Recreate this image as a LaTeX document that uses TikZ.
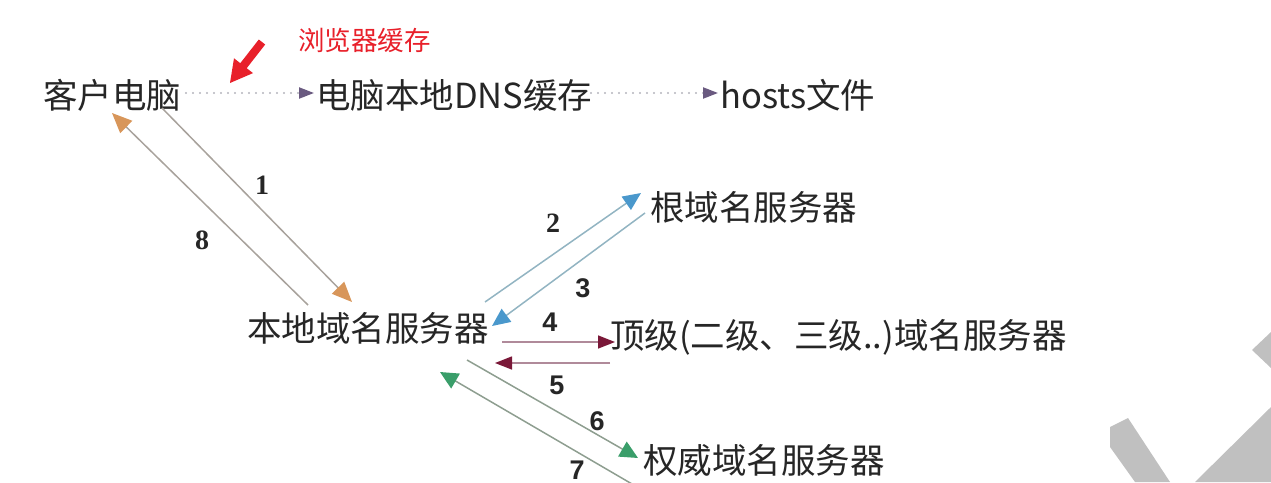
\documentclass[tikz,border=0pt]{standalone}
\usepackage{fontspec}
\setmainfont{Noto Sans CJK SC}
\newfontfamily\numserif{Liberation Serif}
\newfontfamily\numsans{Liberation Sans}
\usetikzlibrary{arrows.meta}
\definecolor{wm}{HTML}{C0C0C0}
\definecolor{redc}{HTML}{E8202A}
\definecolor{lnA}{HTML}{A8A29C}
\definecolor{lnB}{HTML}{92B4C2}
\definecolor{lnC}{HTML}{B08A9A}
\definecolor{lnD}{HTML}{8E9E90}
\definecolor{hdA}{HTML}{D8965A}
\definecolor{hdB}{HTML}{4A98CC}
\definecolor{hdC}{HTML}{7A1838}
\definecolor{hdD}{HTML}{3A9E6A}
\definecolor{hdE}{HTML}{6A5A80}
\definecolor{dotc}{HTML}{B4B4BC}
\begin{document}
\begin{tikzpicture}[x=1pt,y=-1pt,
  lbl/.style={anchor=west,inner sep=0pt,font=\fontsize{34.5}{36}\selectfont,text=black!85},
  numa/.style={inner sep=0pt,font=\fontsize{28}{28}\selectfont\numserif\bfseries,text=black!85},
  numb/.style={inner sep=0pt,font=\fontsize{27}{28}\selectfont\numsans\bfseries,text=black!85},
  conn/.style={line width=1.5pt},
  dotln/.style={dotc,line width=2.2pt,dash pattern=on 0pt off 7pt,line cap=round}]
\useasboundingbox (0,0) rectangle (1271,482);
\clip (0,0) rectangle (1271,482);
% watermark shapes
\fill[wm] (1110,427) -- (1128,418) -- (1170,482) -- (1135,482) -- (1110,447) -- cycle;
\fill[wm] (1195,482) -- (1271,407) -- (1271,482) -- cycle;
\fill[wm] (1252,350) -- (1271,332) -- (1271,368) -- cycle;
% texts
\node[lbl] (pc) at (43,95) {客户电脑};
\node[lbl] (cache) at (316,95) {电脑本地DNS缓存};
\node[lbl] (hosts) at (720,95) {hosts文件};
\node[anchor=west,inner sep=0pt,font=\fontsize{26.5}{28}\selectfont,text=redc] (browser) at (298,40) {浏览器缓存};
\node[lbl] (root) at (650,207) {根域名服务器};
\node[lbl] (local) at (247,328) {本地域名服务器};
\node[lbl] (tld) at (610,337) {顶级(二级、三级..)域名服务器};
\node[lbl] (auth) at (643,460) {权威域名服务器};
% step numbers
\node[numa] (n1) at (262,185) {1};
\node[numa] (n8) at (202,240) {8};
\node[numa] (n2) at (553,223) {2};
\node[numb] (n3) at (583,288) {3};
\node[numb] (n4) at (550,322) {4};
\node[numb] (n5) at (557,385) {5};
\node[numb] (n6) at (597,421) {6};
\node[numb] (n7) at (577,470) {7};
% red arrow
\fill[redc] (230,83) -- (234,58.3) -- (240.3,63.2) -- (258.8,39.5) -- (265.2,44.5) -- (246.7,68.2) -- (253,73.1) -- cycle;
% coordinates
\coordinate (d1s) at (186,93); \coordinate (d1e) at (314,93);
\coordinate (d2s) at (591,93); \coordinate (d2e) at (718,93);
\coordinate (a1s) at (162,108); \coordinate (a1e) at (352,302);
\coordinate (a8s) at (308,305); \coordinate (a8e) at (112,113);
\coordinate (a2s) at (485,302); \coordinate (a2e) at (641,193);
\coordinate (a3s) at (645,213); \coordinate (a3e) at (492,326);
\coordinate (a4s) at (502,342); \coordinate (a4e) at (615,342);
\coordinate (a5s) at (610,363); \coordinate (a5e) at (495,363);
\coordinate (a6s) at (467,360); \coordinate (a6e) at (638,458);
\coordinate (a7s) at (632,484); \coordinate (a7e) at (440,372);
% dotted
\draw[dotln,-{Triangle[length=15pt,width=11pt,color=hdE]}] (d1s) -- (d1e);
\draw[dotln,-{Triangle[length=15pt,width=11pt,color=hdE]}] (d2s) -- (d2e);
% arrows
\draw[conn,lnA,-{Triangle[length=20pt,width=17pt,color=hdA]}] (a1s) -- (a1e);
\draw[conn,lnA,-{Triangle[length=20pt,width=17pt,color=hdA]}] (a8s) -- (a8e);
\draw[conn,lnB,-{Triangle[length=18pt,width=16pt,color=hdB]}] (a2s) -- (a2e);
\draw[conn,lnB,-{Triangle[length=18pt,width=16pt,color=hdB]}] (a3s) -- (a3e);
\draw[conn,lnC,-{Triangle[length=17pt,width=13pt,color=hdC]}] (a4s) -- (a4e);
\draw[conn,lnC,-{Triangle[length=17pt,width=13pt,color=hdC]}] (a5s) -- (a5e);
\draw[conn,lnD,-{Triangle[length=18pt,width=17pt,color=hdD]}] (a6s) -- (a6e);
\draw[conn,lnD,-{Triangle[length=18pt,width=17pt,color=hdD]}] (a7s) -- (a7e);
\end{tikzpicture}
\end{document}
